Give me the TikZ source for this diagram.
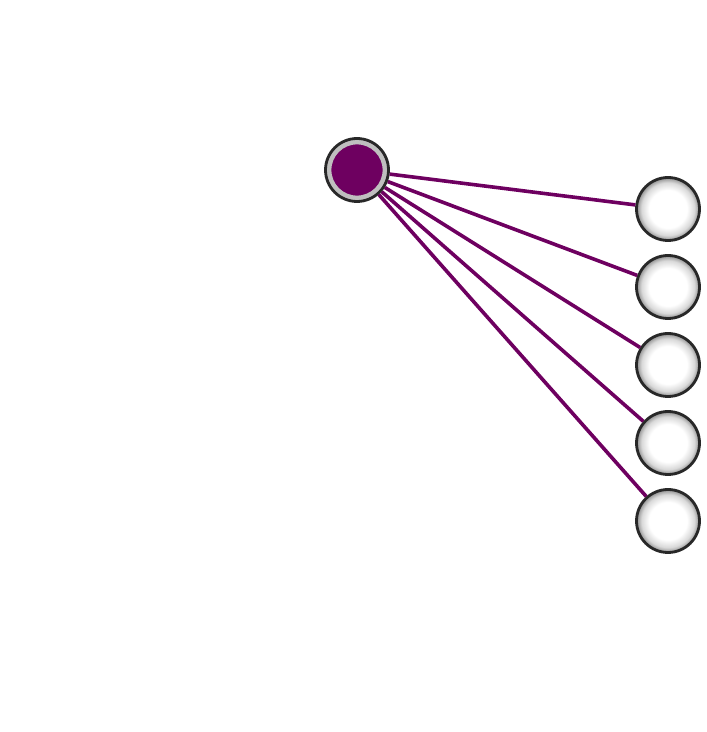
\documentclass[tikz,border=0pt]{standalone}
\definecolor{plum}{RGB}{110,0,96}
\definecolor{rimdark}{RGB}{40,40,40}
\pgfdeclareradialshading{rimshade}{\pgfpoint{0bp}{0bp}}{color(0bp)=(white); color(15bp)=(white); color(21bp)=(gray!30); color(25bp)=(gray!90); color(50bp)=(gray!90)}
\tikzset{
  srcnode/.style={circle, minimum size=63pt, inner sep=0pt, fill=plum, draw=rimdark, line width=2.8pt,
    path picture={\draw[gray!50, line width=4.8pt] (path picture bounding box.center) circle (28pt);}},
  tgtnode/.style={circle, minimum size=63pt, inner sep=0pt, shading=rimshade, draw=rimdark, line width=2.8pt},
  link/.style={plum, line width=3.6pt}
}
\begin{document}
\begin{tikzpicture}[x=1pt,y=1pt]
\useasboundingbox (0,0) rectangle (707,732);
\node[srcnode] (s) at (357,562) {};
\node[tgtnode] (t1) at (668,523) {};
\node[tgtnode] (t2) at (668,445) {};
\node[tgtnode] (t3) at (668,367) {};
\node[tgtnode] (t4) at (668,289) {};
\node[tgtnode] (t5) at (668,211) {};
\foreach \t in {t1,t2,t3,t4,t5} \draw[link] (s) -- (\t);
\end{tikzpicture}
\end{document}
